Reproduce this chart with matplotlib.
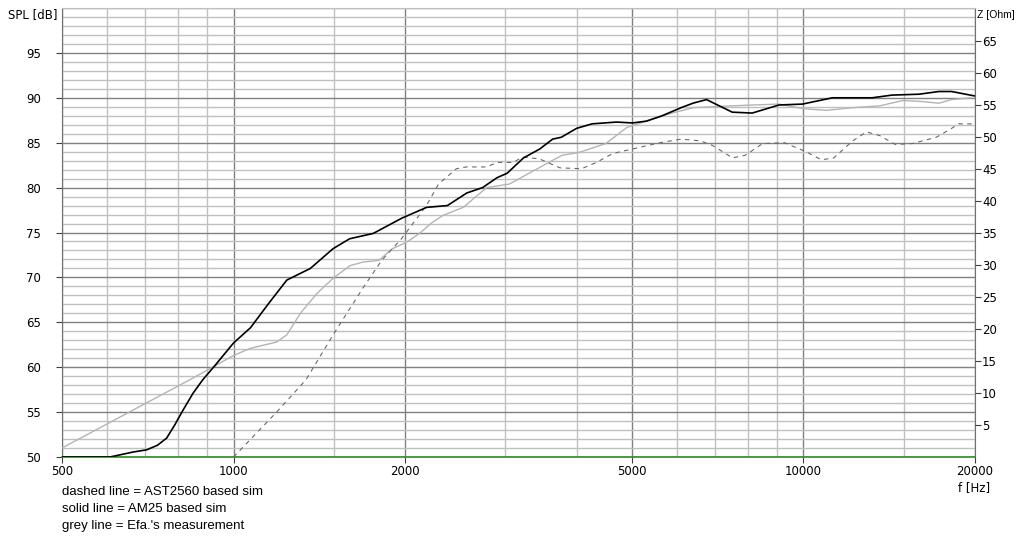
import matplotlib
matplotlib.use("Agg")
import matplotlib.pyplot as plt

# values
solid_f = [500, 607, 666, 704, 735, 763, 789, 815, 849, 883, 928, 1000, 1071, 1146,
           1240, 1364, 1495, 1598, 1759, 1974, 2182, 2373, 2566, 2735, 2899, 3021,
           3226, 3446, 3630, 3757, 4000, 4257, 4700, 5010, 5300, 5650, 6100, 6400,
           6760, 7120, 7500, 8130, 9060, 9960, 11240, 13200, 14300, 15950, 17280,
           18200, 20000]
solid_spl = [50, 50, 50.55, 50.8, 51.3, 52.1, 53.6, 55.2, 57.1, 58.6, 60.2, 62.7, 64.4,
             66.9, 69.7, 71.0, 73.2, 74.3, 74.9, 76.6, 77.8, 78.0, 79.4, 80.0, 81.1,
             81.6, 83.3, 84.3, 85.4, 85.6, 86.6, 87.1, 87.3, 87.2, 87.4, 88.0, 88.9,
             89.4, 89.8, 89.1, 88.4, 88.3, 89.2, 89.3, 90.0, 90.0, 90.3, 90.4, 90.7,
             90.7, 90.2]

grey_f = [500, 838, 1000, 1070, 1190, 1240, 1310, 1400, 1495, 1600, 1685, 1800, 1900,
          2010, 2120, 2230, 2330, 2530, 2780, 3050, 3300, 3770, 4030, 4500, 4900, 5300,
          5800, 6400, 6920, 8130, 9060, 9960, 10970, 12200, 13600, 14950, 16000,
          17300, 18200, 19700]
grey_spl = [51, 58.6, 61.3, 62.1, 62.8, 63.6, 66.0, 68.2, 69.9, 71.3, 71.7, 71.9, 73.2,
            73.9, 74.9, 76.1, 76.9, 77.8, 80.0, 80.4, 81.6, 83.6, 83.9, 84.9, 86.7, 87.4,
            88.2, 88.9, 89.0, 89.2, 89.3, 88.8, 88.6, 88.9, 89.1, 89.7, 89.6, 89.4,
            89.8, 90.0]

dash_f = [1000, 1190, 1340, 1495, 1690, 1820, 1970, 2180, 2290, 2460, 2560, 2780, 2900,
          3090, 3220, 3440, 3740, 4080, 4330, 4630, 5010, 5600, 6100, 6600, 6920, 7300,
          7500, 7900, 8480, 9260, 10100, 10750, 11300, 12200, 12900, 13600, 14500,
          15500, 17100, 18200, 18700, 20000]
dash_spl = [50, 55, 58.6, 63.6, 68.9, 71.9, 74.3, 78.0, 80.4, 82.1, 82.3, 82.3, 82.8,
            82.8, 83.4, 83.2, 82.2, 82.1, 82.8, 83.8, 84.3, 85.0, 85.4, 85.2, 84.7, 83.8,
            83.3, 83.6, 84.9, 85.0, 84.0, 83.1, 83.3, 85.2, 86.2, 85.8, 84.8, 84.9,
            85.6, 86.6, 87.1, 87.1]

x_major = [500, 1000, 2000, 5000, 10000, 20000]
x_minor = [600, 700, 800, 900, 1500, 3000, 4000, 6000, 7000, 8000, 9000, 15000]
spl_ticks = [50, 55, 60, 65, 70, 75, 80, 85, 90, 95]
z_ticks = [5, 10, 15, 20, 25, 30, 35, 40, 45, 50, 55, 60, 65]
notes = ["dashed line = AST2560 based sim",
         "solid line = AM25 based sim",
         "grey line = Efa.'s measurement"]

W, H = 1017, 538
fig = plt.figure(figsize=(W / 100, H / 100), dpi=100)
ax = fig.add_axes([62 / W, (H - 457) / H, (975 - 62) / W, (457 - 8) / H])

ax.set_xscale("log")
ax.set_xlim(500, 20000)
ax.set_ylim(50, 100)

# grid: 1 dB light lines, 5 dB darker; decades darker
ax.set_yticks(spl_ticks)
ax.set_yticks(range(50, 101), minor=True)
ax.set_xticks(x_major)
ax.set_xticks(x_minor, minor=True)
ax.set_xticklabels([str(v) for v in x_major])
ax.set_xticklabels([], minor=True)
ax.set_yticklabels([str(v) for v in spl_ticks])
ax.grid(which="minor", color="#c0c0c0", lw=1.0)
ax.grid(which="major", color="#808080", lw=1.0)
ax.axhline(100, color="#c0c0c0", lw=1.0)
ax.set_axisbelow(True)

ax.tick_params(which="minor", length=0)
ax.tick_params(which="major", length=4, width=0.8, color="#404040",
               labelsize=8.5)
ax.tick_params(axis="y", pad=11)
ax.tick_params(axis="x", pad=2)

ax.spines["top"].set_color("#c0c0c0")
ax.spines["left"].set_color("#707070")
ax.spines["right"].set_color("#707070")
ax.spines["bottom"].set_color("#2e8b22")
ax.spines["bottom"].set_linewidth(1.2)

ax.plot(grey_f, grey_spl, color="#b4b4b4", lw=1.0, zorder=3)
ax.plot(dash_f, dash_spl, color="#6a6a6a", lw=0.8, ls=(0, (4, 4)), zorder=3)
ax.plot(solid_f, solid_spl, color="black", lw=1.2, zorder=4)

ax2 = ax.twinx()
ax2.set_ylim(0, 70.2)
ax2.set_yticks(z_ticks)
ax2.set_yticklabels([str(v) for v in z_ticks])
ax2.tick_params(length=4, width=0.8, color="#404040", labelsize=8.5, pad=1)
for s in ax2.spines.values():
    s.set_visible(False)

fig.text(57 / W, 1 - 15 / H, "SPL [dB]", ha="right", va="center", fontsize=8.5)
fig.text(977 / W, 1 - 15 / H, "Z [Ohm]", ha="left", va="center", fontsize=7.5,
         family="Liberation Sans")
fig.text(990 / W, 1 - 488 / H, "f [Hz]", ha="right", va="center", fontsize=8.5)

for i, line in enumerate(notes):
    fig.text(62 / W, 1 - (492 + 17 * i) / H, line, ha="left", va="center",
             fontsize=9.5, family="Liberation Sans")

fig.savefig("out.png", dpi=100)
